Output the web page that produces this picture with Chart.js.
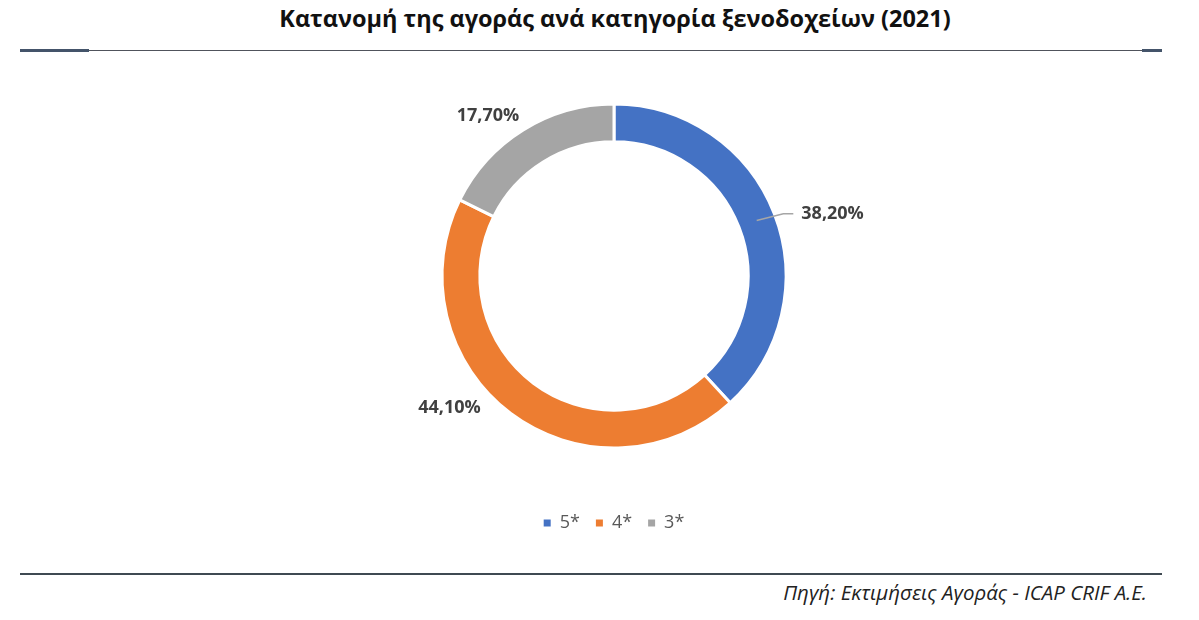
<!DOCTYPE html>
<html lang="el">
<head>
<meta charset="utf-8">
<title>Κατανομή της αγοράς ανά κατηγορία ξενοδοχείων (2021)</title>
<script src="https://cdn.jsdelivr.net/npm/chart.js@4.4.1/dist/chart.umd.min.js"></script>
<style>
  html, body { margin: 0; padding: 0; background: #ffffff; }
  body { width: 1199px; height: 620px; position: relative; overflow: hidden; font-family: "Open Sans", sans-serif; }
  .title { position: absolute; left: 0; width: 1230px; top: 2px; text-align: center; font-weight: 700; font-size: 23.5px; color: #111111; }
  .rule { position: absolute; }
  .source { position: absolute; right: 52px; top: 578px; font-style: italic; font-size: 20.5px; color: #222222; }
  #wrap { position: absolute; left: 0; top: 40px; width: 1199px; height: 506px; }
</style>
</head>
<body>
<div class="title">Κατανομή της αγοράς ανά κατηγορία ξενοδοχείων (2021)</div>

<div class="rule" style="left:20px; width:1142px; top:50px; height:1px; background:#50545c;"></div>
<div class="rule" style="left:20px; width:69px; top:49px; height:3px; background:#44546a;"></div>
<div class="rule" style="left:1142px; width:20px; top:49px; height:3px; background:#44546a;"></div>

<div id="wrap"><canvas id="pie" width="1199" height="506"></canvas></div>

<div class="rule" style="left:20px; width:1142px; top:573px; height:2px; background:#3f4a52;"></div>
<div class="source">Πηγή: Εκτιμήσεις Αγοράς - ICAP CRIF A.E.</div>

<script>
// data
const categories = ["5*", "4*", "3*"];
const shares = [38.2, 44.1, 17.7];
const shareLabels = ["38,20%", "44,10%", "17,70%"];
const colors = ["#4472c4", "#ed7d31", "#a5a5a5"];

// where each label sits relative to the outer middle of its slice
const labelPlacement = [
  { dx: 27, dy: 0, align: "left", leader: true },
  { dx: -30, dy: -6, align: "right", leader: false },
  { dx: -4, dy: -14, align: "right", leader: false }
];

const sliceLabels = {
  id: "sliceLabels",
  afterDatasetsDraw(chart) {
    const ctx = chart.ctx;
    const meta = chart.getDatasetMeta(0);
    ctx.save();
    ctx.font = "bold 18px 'Open Sans', sans-serif";
    ctx.fillStyle = "#404040";
    ctx.textBaseline = "middle";
    meta.data.forEach((arc, i) => {
      const p = arc.getProps(["x", "y", "startAngle", "endAngle", "outerRadius", "innerRadius"], true);
      const mid = (p.startAngle + p.endAngle) / 2;
      const ox = p.x + Math.cos(mid) * p.outerRadius;
      const oy = p.y + Math.sin(mid) * p.outerRadius;
      const pl = labelPlacement[i];
      const tx = ox + pl.dx;
      const ty = oy + pl.dy;
      if (pl.leader) {
        const rm = (p.outerRadius + p.innerRadius) / 2;
        ctx.beginPath();
        ctx.strokeStyle = "#a6a6a6";
        ctx.lineWidth = 1.5;
        ctx.moveTo(p.x + Math.cos(mid) * rm, p.y + Math.sin(mid) * rm);
        ctx.lineTo(tx - 18, ty);
        ctx.lineTo(tx - 8, ty);
        ctx.stroke();
      }
      ctx.textAlign = pl.align;
      ctx.fillText(shareLabels[i], tx, ty);
    });
    ctx.restore();
  }
};

new Chart(document.getElementById("pie"), {
  type: "doughnut",
  data: {
    labels: categories,
    datasets: [{
      data: shares,
      backgroundColor: colors,
      borderColor: "#ffffff",
      borderWidth: 3,
      radius: 172,
      cutout: "78%"
    }]
  },
  options: {
    responsive: false,
    animation: false,
    layout: { padding: { top: 14, left: 29, right: 0, bottom: 4 } },
    plugins: {
      legend: {
        position: "bottom",
        labels: {
          boxWidth: 7,
          boxHeight: 7,
          padding: 16,
          color: "#595959",
          font: { family: "'Open Sans', sans-serif", size: 18 },
          generateLabels(chart) {
            // legend squares without the white slice border
            const items = Chart.overrides.doughnut.plugins.legend.labels.generateLabels(chart);
            items.forEach(it => { it.lineWidth = 0; });
            return items;
          }
        }
      },
      tooltip: { enabled: false }
    }
  },
  plugins: [sliceLabels]
});
</script>
</body>
</html>
